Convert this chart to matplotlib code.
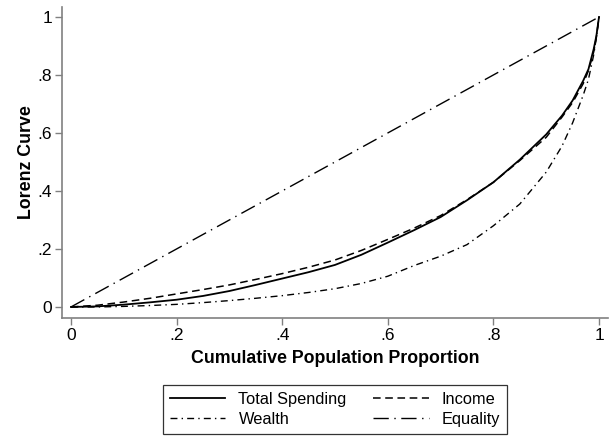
import matplotlib
matplotlib.use("Agg")
import matplotlib.pyplot as plt

plt.rcParams['font.family'] = ['Liberation Sans', 'DejaVu Sans']

# cumulative population proportion
pop = [0, 0.05, 0.1, 0.15, 0.2, 0.25, 0.3, 0.35, 0.4, 0.45, 0.5, 0.55, 0.6,
       0.65, 0.7, 0.75, 0.8, 0.85, 0.9, 0.93, 0.95, 0.97, 0.98, 0.99, 0.995, 1.0]

spending = [0, 0.002, 0.008, 0.016, 0.025, 0.038, 0.055, 0.076, 0.098, 0.12, 0.145,
            0.18, 0.222, 0.265, 0.31, 0.368, 0.43, 0.508, 0.595, 0.66, 0.712,
            0.78, 0.82, 0.89, 0.935, 1.0]
income = [0, 0.006, 0.017, 0.03, 0.045, 0.06, 0.076, 0.095, 0.115, 0.137, 0.162,
          0.195, 0.233, 0.272, 0.315, 0.37, 0.43, 0.505, 0.585, 0.655, 0.705,
          0.77, 0.815, 0.88, 0.93, 1.0]
wealth = [0, 0.0, 0.002, 0.005, 0.009, 0.015, 0.022, 0.03, 0.039, 0.05, 0.063,
          0.081, 0.106, 0.143, 0.175, 0.215, 0.28, 0.355, 0.465, 0.555, 0.635,
          0.73, 0.785, 0.87, 0.93, 1.0]
equality_x = [0, 1]
equality_y = [0, 1]

fig = plt.figure(figsize=(6.16, 4.44), dpi=100)
ax = fig.add_axes([0.1006, 0.2838, 0.8864, 0.7002])

l1, = ax.plot(pop, spending, color='black', lw=1.3, label='Total Spending')
l2, = ax.plot(pop, income, color='black', lw=1.1, linestyle=(0, (5, 3)), label='Income')
l3, = ax.plot(pop, wealth, color='black', lw=1.0, linestyle=(0, (5, 3, 1, 3)), label='Wealth')
l4, = ax.plot(equality_x, equality_y, color='black', lw=1.0,
              linestyle=(0, (11, 4, 1, 4)), label='Equality')

ax.set_xlim(-0.017, 1.017)
ax.set_ylim(-0.038, 1.034)
ticks = [0, 0.2, 0.4, 0.6, 0.8, 1]
labels = ['0', '.2', '.4', '.6', '.8', '1']
ax.set_xticks(ticks)
ax.set_xticklabels(labels)
ax.set_yticks(ticks)
ax.set_yticklabels(labels)

for s in ['top', 'right']:
    ax.spines[s].set_visible(False)
for s in ['left', 'bottom']:
    ax.spines[s].set_color('#808080')
    ax.spines[s].set_linewidth(1.2)
ax.tick_params(direction='out', length=5, width=1, color='#808080',
               labelsize=12.5, pad=2)

ax.set_xlabel('Cumulative Population Proportion', fontsize=12.8,
              fontweight='bold', labelpad=5)
ax.set_ylabel('Lorenz Curve', fontsize=12.8, fontweight='bold', labelpad=2)

leg = fig.legend([l1, l3, l2, l4],
                 ['Total Spending', 'Wealth', 'Income', 'Equality'],
                 ncol=2, loc='center', bbox_to_anchor=(0.5438, 0.0777),
                 fontsize=11.8, frameon=True, fancybox=False,
                 handlelength=3.4, handletextpad=0.8, columnspacing=1.6,
                 labelspacing=0.3, borderpad=0.4)
leg.get_frame().set_edgecolor('black')
leg.get_frame().set_linewidth(0.9)

fig.savefig('out.png', dpi=100)
